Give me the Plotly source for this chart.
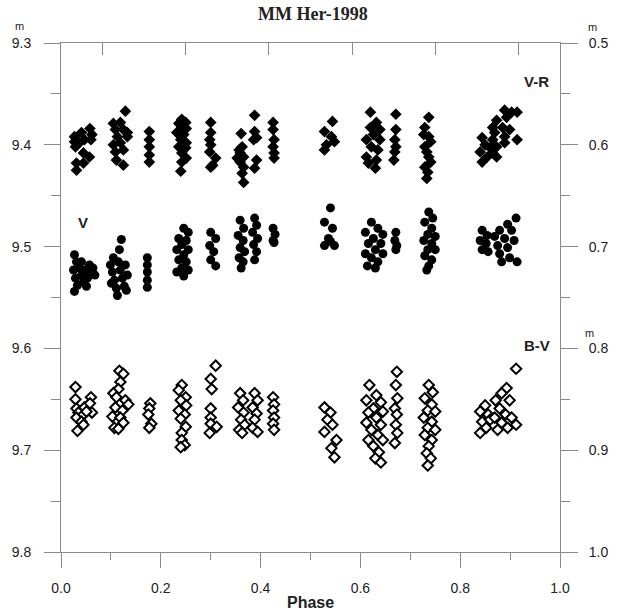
import plotly.graph_objects as go

# ---------------- data (phase, magnitude) ----------------
# V-R colour index (right axis), filled diamonds
vr_phase = [0.027, 0.027, 0.029, 0.031, 0.031, 0.037, 0.041, 0.045, 0.045, 0.047, 0.057, 0.058, 0.060, 0.062,
            0.129, 0.105, 0.119, 0.109, 0.125, 0.113, 0.133, 0.105, 0.119, 0.109, 0.125, 0.111, 0.125, 0.133,
            0.177, 0.177, 0.177, 0.177, 0.177,
            0.242, 0.250, 0.236, 0.242, 0.251, 0.232, 0.246, 0.240, 0.251, 0.236, 0.250, 0.242, 0.251, 0.242, 0.240,
            0.300, 0.300, 0.298, 0.300, 0.298, 0.310, 0.304, 0.300,
            0.361, 0.363, 0.359, 0.366, 0.359, 0.366, 0.363, 0.366, 0.357, 0.353,
            0.388, 0.388, 0.392, 0.386, 0.392, 0.388,
            0.425, 0.425, 0.427, 0.425, 0.427, 0.427,
            0.544, 0.528, 0.542, 0.548, 0.532, 0.528,
            0.620, 0.632, 0.620, 0.639, 0.626, 0.612, 0.639, 0.622, 0.635, 0.612, 0.632, 0.630, 0.616,
            0.671, 0.671, 0.669, 0.671, 0.669, 0.667,
            0.737, 0.729, 0.737, 0.729, 0.737, 0.729, 0.733, 0.741, 0.733, 0.741, 0.727, 0.735,
            0.844, 0.850, 0.840, 0.854, 0.844, 0.860,
            0.889, 0.903, 0.914, 0.893, 0.873, 0.865, 0.885, 0.899, 0.869, 0.889, 0.914, 0.865, 0.873, 0.889, 0.865, 0.873]
vr_mag = [0.592, 0.597, 0.602, 0.618, 0.625, 0.598, 0.588, 0.608, 0.618, 0.595, 0.612, 0.584, 0.595, 0.590,
          0.567, 0.579, 0.578, 0.585, 0.585, 0.592, 0.592, 0.600, 0.598, 0.607, 0.605, 0.615, 0.620, 0.588,
          0.587, 0.595, 0.602, 0.610, 0.617,
          0.575, 0.578, 0.579, 0.583, 0.584, 0.588, 0.590, 0.595, 0.598, 0.602, 0.603, 0.608, 0.613, 0.617, 0.626,
          0.578, 0.588, 0.595, 0.600, 0.607, 0.613, 0.620, 0.622,
          0.589, 0.602, 0.608, 0.612, 0.617, 0.622, 0.628, 0.637, 0.605, 0.613,
          0.571, 0.587, 0.593, 0.595, 0.615, 0.623,
          0.578, 0.585, 0.595, 0.602, 0.608, 0.613,
          0.577, 0.587, 0.592, 0.597, 0.600, 0.605,
          0.568, 0.578, 0.583, 0.585, 0.590, 0.595, 0.595, 0.602, 0.605, 0.612, 0.615, 0.623, 0.618,
          0.570, 0.585, 0.595, 0.602, 0.607, 0.615,
          0.573, 0.583, 0.592, 0.602, 0.612, 0.622, 0.633, 0.597, 0.607, 0.617, 0.590, 0.627,
          0.593, 0.600, 0.607, 0.612, 0.617, 0.603,
          0.566, 0.568, 0.568, 0.573, 0.576, 0.583, 0.583, 0.585, 0.588, 0.592, 0.595, 0.595, 0.602, 0.598, 0.608, 0.612]

# V magnitude (left axis), filled circles
v_phase = [0.027, 0.031, 0.025, 0.029, 0.033, 0.027, 0.037, 0.041, 0.045, 0.049, 0.053, 0.057, 0.060, 0.064, 0.051, 0.041, 0.068,
           0.099, 0.103, 0.107, 0.111, 0.115, 0.119, 0.123, 0.127, 0.105, 0.113, 0.129, 0.133, 0.117, 0.121, 0.101, 0.131,
           0.173, 0.173, 0.173, 0.173, 0.173,
           0.246, 0.255, 0.236, 0.251, 0.242, 0.232, 0.255, 0.246, 0.236, 0.251, 0.242, 0.232, 0.255, 0.246,
           0.300, 0.310, 0.298, 0.306, 0.300, 0.310,
           0.359, 0.366, 0.355, 0.365, 0.359, 0.368, 0.357, 0.365, 0.361,
           0.388, 0.392, 0.384, 0.394, 0.386, 0.392, 0.388,
           0.425, 0.429, 0.425, 0.427,
           0.540, 0.528, 0.544, 0.536, 0.528, 0.548, 0.540,
           0.622, 0.635, 0.610, 0.645, 0.626, 0.616, 0.641, 0.630, 0.610, 0.645, 0.622, 0.635, 0.614, 0.630,
           0.671, 0.669, 0.673, 0.671,
           0.737, 0.745, 0.729, 0.743, 0.735, 0.750, 0.727, 0.743, 0.735, 0.750, 0.729, 0.743, 0.737, 0.733,
           0.844, 0.854, 0.840, 0.852, 0.844, 0.856,
           0.912, 0.895, 0.879, 0.903, 0.869, 0.889, 0.908, 0.875, 0.895, 0.879, 0.899, 0.914, 0.883]
v_mag = [9.508, 9.515, 9.523, 9.531, 9.538, 9.544, 9.521, 9.528, 9.535, 9.523, 9.531, 9.518, 9.525, 9.521, 9.539, 9.515, 9.528,
         9.518, 9.525, 9.533, 9.541, 9.515, 9.523, 9.531, 9.539, 9.511, 9.548, 9.518, 9.528, 9.503, 9.493, 9.536, 9.543,
         9.511, 9.518, 9.525, 9.533, 9.540,
         9.482, 9.486, 9.492, 9.494, 9.498, 9.503, 9.503, 9.508, 9.513, 9.515, 9.521, 9.525, 9.523, 9.529,
         9.486, 9.492, 9.499, 9.505, 9.513, 9.519,
         9.474, 9.482, 9.489, 9.494, 9.501, 9.505, 9.511, 9.515, 9.521,
         9.472, 9.479, 9.486, 9.492, 9.498, 9.505, 9.513,
         9.482, 9.488, 9.494, 9.496,
         9.462, 9.476, 9.482, 9.492, 9.499, 9.499, 9.495,
         9.476, 9.482, 9.486, 9.488, 9.492, 9.497, 9.497, 9.503, 9.507, 9.507, 9.511, 9.515, 9.519, 9.521,
         9.486, 9.494, 9.499, 9.503,
         9.466, 9.472, 9.476, 9.482, 9.488, 9.490, 9.494, 9.497, 9.503, 9.503, 9.509, 9.513, 9.519, 9.523,
         9.484, 9.489, 9.494, 9.497, 9.503, 9.505,
         9.472, 9.478, 9.484, 9.484, 9.490, 9.492, 9.494, 9.499, 9.501, 9.507, 9.511, 9.515, 9.515]

# B-V colour index (right axis), open diamonds
bv_phase = [0.029, 0.029, 0.031, 0.035, 0.031, 0.047, 0.045, 0.041, 0.045, 0.033, 0.060, 0.058, 0.062, 0.051,
            0.117, 0.125, 0.119, 0.115, 0.105, 0.111, 0.129, 0.135, 0.109, 0.123, 0.103, 0.119, 0.125, 0.107, 0.115,
            0.179, 0.177, 0.175, 0.181, 0.177,
            0.242, 0.236, 0.250, 0.240, 0.251, 0.236, 0.248, 0.240, 0.250, 0.242, 0.242, 0.248, 0.240,
            0.310, 0.300, 0.302, 0.300, 0.300, 0.300, 0.312, 0.298,
            0.359, 0.365, 0.355, 0.366, 0.361, 0.368, 0.357, 0.363,
            0.388, 0.394, 0.384, 0.392, 0.388, 0.384, 0.394,
            0.425, 0.427, 0.425, 0.427, 0.425, 0.427,
            0.528, 0.540, 0.534, 0.544, 0.528, 0.552, 0.542, 0.548,
            0.618, 0.632, 0.612, 0.641, 0.626, 0.616, 0.645, 0.632, 0.612, 0.641, 0.622, 0.635, 0.616, 0.645, 0.626, 0.637, 0.630, 0.641,
            0.673, 0.671, 0.674, 0.669, 0.673, 0.671, 0.674, 0.669,
            0.737, 0.745, 0.729, 0.743, 0.735, 0.750, 0.727, 0.743, 0.735, 0.750, 0.729, 0.743, 0.737, 0.733, 0.741, 0.735,
            0.850, 0.840, 0.856, 0.844, 0.852, 0.840, 0.860,
            0.912, 0.893, 0.883, 0.871, 0.899, 0.879, 0.891, 0.869, 0.903, 0.883, 0.895, 0.912, 0.875]
bv_mag = [0.838, 0.850, 0.859, 0.863, 0.868, 0.858, 0.865, 0.872, 0.875, 0.881, 0.848, 0.854, 0.863, 0.862,
          0.822, 0.825, 0.833, 0.840, 0.844, 0.848, 0.851, 0.855, 0.858, 0.861, 0.867, 0.868, 0.873, 0.878, 0.879,
          0.854, 0.859, 0.865, 0.874, 0.878,
          0.836, 0.841, 0.848, 0.851, 0.856, 0.861, 0.865, 0.869, 0.877, 0.883, 0.890, 0.895, 0.897,
          0.817, 0.830, 0.840, 0.859, 0.868, 0.874, 0.877, 0.883,
          0.844, 0.851, 0.858, 0.863, 0.870, 0.875, 0.880, 0.883,
          0.844, 0.851, 0.858, 0.864, 0.870, 0.878, 0.882,
          0.848, 0.855, 0.861, 0.868, 0.874, 0.880,
          0.858, 0.863, 0.870, 0.875, 0.882, 0.890, 0.898, 0.907,
          0.836, 0.846, 0.851, 0.853, 0.859, 0.863, 0.862, 0.868, 0.873, 0.875, 0.880, 0.885, 0.890, 0.890, 0.896, 0.902, 0.908, 0.912,
          0.823, 0.836, 0.849, 0.859, 0.865, 0.875, 0.883, 0.893,
          0.836, 0.843, 0.849, 0.855, 0.861, 0.862, 0.868, 0.872, 0.878, 0.880, 0.885, 0.890, 0.896, 0.903, 0.908, 0.915,
          0.856, 0.862, 0.865, 0.872, 0.878, 0.883, 0.870,
          0.820, 0.839, 0.844, 0.851, 0.851, 0.859, 0.865, 0.868, 0.868, 0.873, 0.878, 0.875, 0.880]

x_ticks = [0.0, 0.2, 0.4, 0.6, 0.8, 1.0]
left_ticks = [9.3, 9.4, 9.5, 9.6, 9.7, 9.8]
right_ticks = [0.5, 0.6, 0.7, 0.8, 0.9, 1.0]
top_ticks = [1/12, 3/12, 5/12, 7/12, 9/12, 11/12]

# ---------------- figure ----------------
AX = "#8a8a8a"
TXT = "#222222"
SANS = "Liberation Sans, Arial, sans-serif"

fig = go.Figure()
fig.add_trace(go.Scatter(x=v_phase, y=v_mag, mode="markers", xaxis="x", yaxis="y",
                         marker=dict(symbol="circle", size=9, color="black", line=dict(width=0)),
                         showlegend=False, name="V"))
fig.add_trace(go.Scatter(x=vr_phase, y=vr_mag, mode="markers", xaxis="x", yaxis="y2",
                         marker=dict(symbol="diamond", size=9, color="black", line=dict(width=0)),
                         showlegend=False, name="V-R"))
fig.add_trace(go.Scatter(x=bv_phase, y=bv_mag, mode="markers", xaxis="x", yaxis="y2",
                         marker=dict(symbol="diamond", size=8, color="white", line=dict(width=2, color="black")),
                         showlegend=False, name="B-V"))
# invisible trace to carry the top tick axis
fig.add_trace(go.Scatter(x=[0, 1], y=[9.3, 9.3], mode="markers", xaxis="x2", yaxis="y",
                         marker=dict(opacity=0), showlegend=False, hoverinfo="skip"))

fig.update_layout(
    width=620, height=614,
    margin=dict(l=59, r=48, t=43, b=62),
    paper_bgcolor="white", plot_bgcolor="white",
    font=dict(family=SANS, size=14, color=TXT),
    xaxis=dict(range=[0, 1], tickvals=x_ticks, tickformat=".1f", ticks="outside", ticklen=15,
               tickcolor=AX, tickwidth=1, showline=True, linecolor=AX, linewidth=1, mirror=True,
               showgrid=False, zeroline=False, ticklabelstandoff=8,
               minor=dict(dtick=0.1, tick0=0, ticks="outside", ticklen=7, tickcolor=AX)),
    xaxis2=dict(range=[0, 1], overlaying="x", side="top", anchor="y", tickvals=top_ticks,
                ticks="inside", ticklen=12, tickcolor=AX, showticklabels=False,
                showline=False, showgrid=False, zeroline=False),
    yaxis=dict(range=[9.8, 9.3], tickvals=left_ticks, tickformat=".1f", ticks="outside", ticklen=16,
               tickcolor=AX, showline=True, linecolor=AX, linewidth=1, showgrid=False, zeroline=False,
               ticklabelstandoff=10,
               minor=dict(dtick=0.05, tick0=9.3, ticks="outside", ticklen=9, tickcolor=AX)),
    yaxis2=dict(range=[1.0, 0.5], overlaying="y", side="right", tickvals=right_ticks, tickformat=".1f",
                ticks="outside", ticklen=17, tickcolor=AX, showline=True, linecolor=AX, linewidth=1,
                showgrid=False, zeroline=False, ticklabelstandoff=8,
                minor=dict(dtick=0.05, tick0=0.5, ticks="outside", ticklen=9, tickcolor=AX)),
)

def ann(text, x, y, size, family=SANS, bold=True):
    fig.add_annotation(text=("<b>%s</b>" % text) if bold else text, x=x, y=y, xref="paper", yref="paper",
                       showarrow=False, xanchor="center", yanchor="middle",
                       font=dict(family=family, size=size, color=TXT))

ann("MM Her-1998", 0.505, 1.057, 18, family="Liberation Serif, Times New Roman, serif")
ann("Phase", 0.501, -0.100, 16)
ann("V-R", 0.953, 0.925, 15)
ann("B-V", 0.953, 0.405, 15)
ann("V", 0.045, 0.648, 15)
ann("m", -0.084, 1.033, 11, bold=False)
ann("m", 1.066, 1.031, 11, bold=False)
ann("m", 1.060, 0.430, 11, bold=False)

fig.write_html("out.html", config={"displayModeBar": False},
               post_script="document.body.style.margin='0';document.body.style.padding='0';document.body.style.overflow='hidden';")
